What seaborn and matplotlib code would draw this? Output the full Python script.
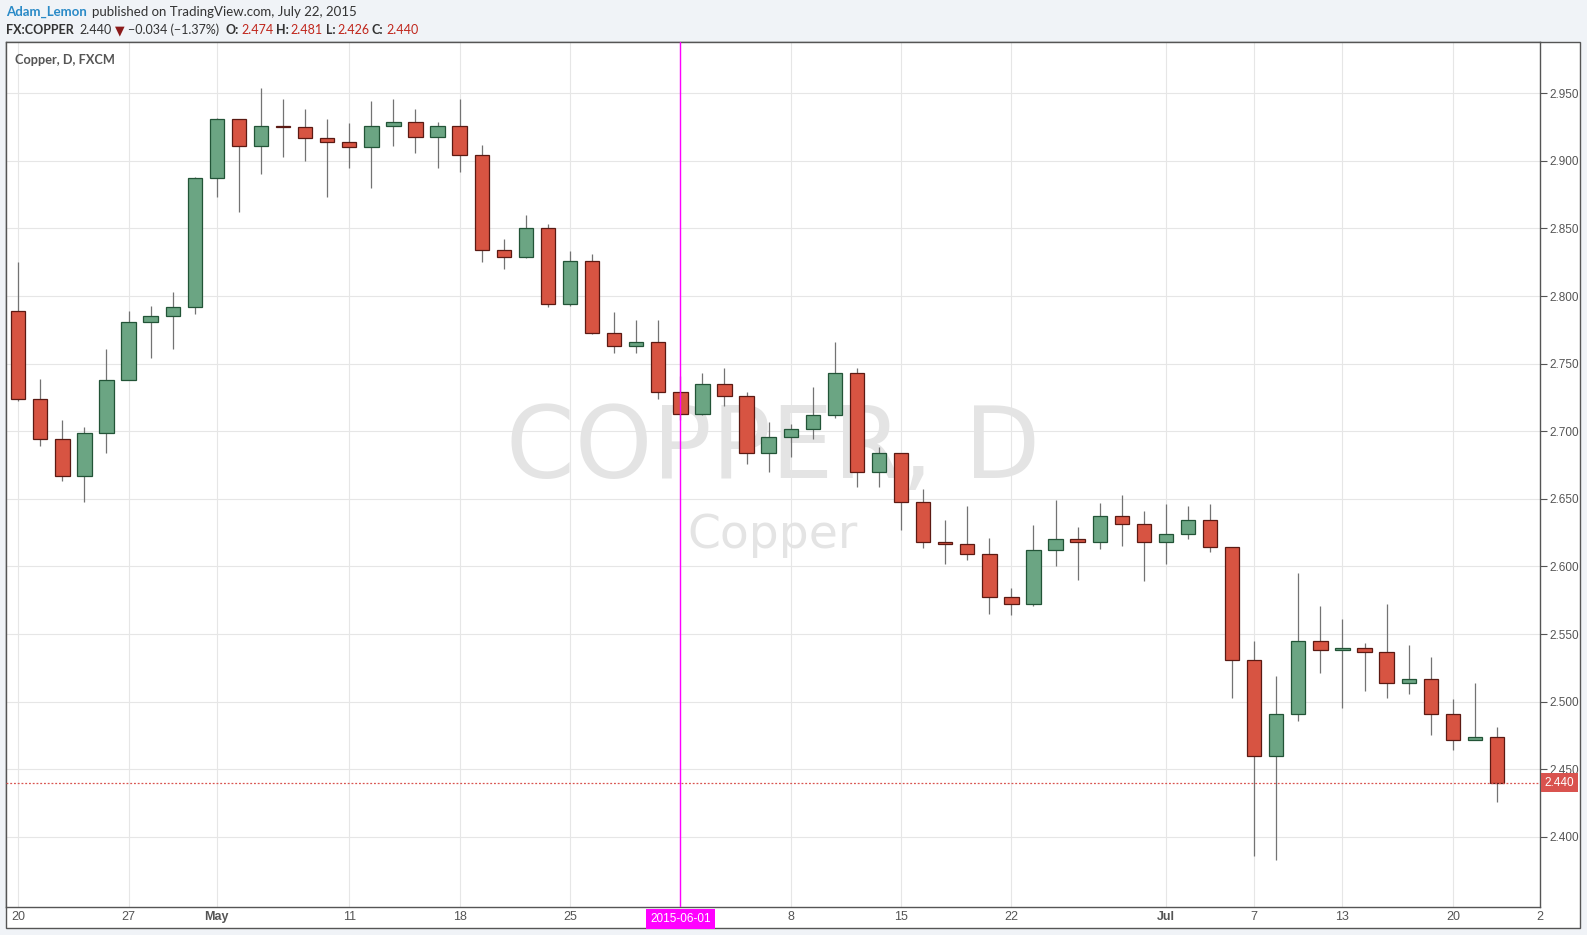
import pandas as pd
import matplotlib.pyplot as plt
import matplotlib.transforms as mtransforms
from matplotlib.patches import Rectangle
import seaborn as sns

# Daily OHLC for FX:COPPER (20 Apr - 22 Jul 2015)
dates = pd.bdate_range('2015-04-20', '2015-07-22')
opens = [2.789, 2.724, 2.694, 2.667, 2.699, 2.738, 2.781, 2.785, 2.792, 2.887,
         2.931, 2.911, 2.926, 2.925, 2.917, 2.914, 2.910, 2.926, 2.929, 2.918,
         2.926, 2.904, 2.834, 2.829, 2.850, 2.794, 2.826, 2.773, 2.763, 2.766,
         2.729, 2.7125, 2.735, 2.726, 2.684, 2.696, 2.702, 2.712, 2.743, 2.670,
         2.684, 2.6475, 2.618, 2.6165, 2.609, 2.5775, 2.5725, 2.612, 2.6205, 2.618,
         2.637, 2.6315, 2.618, 2.624, 2.6345, 2.6145, 2.531, 2.460, 2.491, 2.545,
         2.538, 2.5397, 2.5368, 2.514, 2.517, 2.491, 2.4713, 2.474]
highs = [2.825, 2.739, 2.708, 2.703, 2.761, 2.789, 2.793, 2.803, 2.888, 2.932,
         2.931, 2.954, 2.946, 2.938, 2.931, 2.928, 2.944, 2.946, 2.938, 2.929,
         2.946, 2.912, 2.842, 2.860, 2.853, 2.833, 2.831, 2.788, 2.782, 2.782,
         2.741, 2.743, 2.747, 2.729, 2.707, 2.705, 2.733, 2.766, 2.747, 2.688,
         2.684, 2.657, 2.634, 2.645, 2.621, 2.584, 2.631, 2.649, 2.629, 2.647,
         2.6525, 2.641, 2.646, 2.645, 2.646, 2.6145, 2.545, 2.519, 2.595, 2.571,
         2.561, 2.5436, 2.572, 2.542, 2.533, 2.502, 2.514, 2.481]
lows = [2.722, 2.689, 2.663, 2.648, 2.684, 2.738, 2.754, 2.761, 2.787, 2.873,
        2.862, 2.890, 2.903, 2.900, 2.873, 2.895, 2.880, 2.911, 2.906, 2.895,
        2.892, 2.825, 2.820, 2.828, 2.792, 2.793, 2.772, 2.758, 2.758, 2.724,
        2.708, 2.712, 2.719, 2.676, 2.670, 2.681, 2.694, 2.710, 2.659, 2.659,
        2.627, 2.614, 2.602, 2.6045, 2.565, 2.564, 2.571, 2.600, 2.590, 2.613,
        2.615, 2.589, 2.602, 2.620, 2.611, 2.503, 2.386, 2.383, 2.486, 2.521,
        2.495, 2.508, 2.503, 2.506, 2.475, 2.4645, 2.4713, 2.426]
closes = [2.724, 2.694, 2.667, 2.699, 2.738, 2.781, 2.785, 2.792, 2.887, 2.931,
          2.911, 2.926, 2.925, 2.917, 2.914, 2.910, 2.926, 2.929, 2.918, 2.926,
          2.904, 2.834, 2.829, 2.850, 2.794, 2.826, 2.773, 2.763, 2.766, 2.729,
          2.7125, 2.735, 2.726, 2.684, 2.696, 2.702, 2.712, 2.743, 2.670, 2.684,
          2.6475, 2.618, 2.6165, 2.609, 2.5775, 2.5725, 2.612, 2.620, 2.618, 2.637,
          2.6315, 2.618, 2.624, 2.6345, 2.6145, 2.531, 2.460, 2.491, 2.545, 2.5385,
          2.5397, 2.5368, 2.514, 2.517, 2.491, 2.4713, 2.4735, 2.440]

x_tick_pos = [0, 5, 9, 15, 20, 25, 30, 35, 40, 45, 52, 56, 60, 65, 68.95]
x_tick_labels = ['20', '27', 'May', '11', '18', '25', '', '8', '15', '22', 'Jul', '7', '13', '20', '2']
price_ticks = [2.40, 2.45, 2.50, 2.55, 2.60, 2.65, 2.70, 2.75, 2.80, 2.85, 2.90, 2.95]
last_price = 2.440
marker_idx = 30  # 2015-06-01 crosshair

df = pd.DataFrame({'date': dates, 'open': opens, 'high': highs, 'low': lows, 'close': closes})
df['idx'] = range(len(df))
df['up'] = df['close'] >= df['open']
df['body_lo'] = df[['open', 'close']].min(axis=1)
df['body_h'] = (df['close'] - df['open']).abs()

sns.set_theme(style='white')
plt.rcParams['font.family'] = ['DejaVu Sans']
narrow = ['Liberation Sans Narrow', 'DejaVu Sans Condensed', 'Liberation Sans']

W, H = 1587, 935
fig = plt.figure(figsize=(W / 100, H / 100), dpi=100)
fig.patch.set_facecolor('#f0f3f7')

def fx(x):
    return x / W

def fy(y):
    return 1 - y / H

# outer chart frame (behind the axes)
fig.patches.append(Rectangle((fx(6), fy(928)), fx(1580) - fx(6), fy(42) - fy(928),
                             transform=fig.transFigure, facecolor='white',
                             edgecolor='#555555', linewidth=1, zorder=-5))

ax = fig.add_axes([fx(6), fy(907), fx(1540) - fx(6), fy(42) - fy(907)])
ax.set_zorder(2)
ax.set_facecolor('white')

# gridlines
for p in price_ticks:
    ax.axhline(p, color='#e6e6e6', lw=0.8, zorder=0)
for p in x_tick_pos[:-1]:
    ax.axvline(p, color='#e6e6e6', lw=0.8, zorder=0)

# watermark
ax.text(0.5, 0.4955, 'COPPER, D', transform=ax.transAxes, ha='center', va='baseline',
        fontsize=71, color='#e4e4e4', zorder=0.5, family='DejaVu Sans')
ax.text(0.5, 0.4146, 'Copper', transform=ax.transAxes, ha='center', va='baseline',
        fontsize=34, color='#e4e4e4', zorder=0.5, family='DejaVu Sans')

# candles
ax.vlines(df['idx'], df['low'], df['high'], color='#737373', lw=0.9, zorder=2)
fills = df['up'].map({True: '#6ba583', False: '#d75442'})
edges = df['up'].map({True: '#225437', False: '#5b1a13'})
ax.bar(df['idx'], df['body_h'], bottom=df['body_lo'], width=0.65,
       color=fills, edgecolor=edges, linewidth=0.9, zorder=3)

# last price line and crosshair
ax.axhline(last_price, color='#d9534f', lw=0.9, ls=(0, (1.5, 1.5)), zorder=4)
ax.axvline(marker_idx, color='#ff00ff', lw=1.0, zorder=4)

ax.set_xlim(-0.553, 68.95)
ax.set_ylim(2.3481, 2.9879)

ax.yaxis.tick_right()
ax.set_yticks(price_ticks)
ax.set_yticklabels([f'{p:.3f}' for p in price_ticks])
ax.tick_params(axis='y', length=5, width=0.8, color='#555555', labelcolor='#555555',
               labelsize=8.5, pad=2, right=True, left=False)
ax.set_xticks(x_tick_pos)
ax.set_xticklabels(x_tick_labels)
ax.tick_params(axis='x', length=0, labelcolor='#555555', labelsize=9, pad=3)
for lab in ax.get_xticklabels():
    lab.set_family(narrow)
    if lab.get_text() in ('May', 'Jul'):
        lab.set_fontweight('bold')
for lab in ax.get_yticklabels():
    lab.set_family(['Liberation Sans', 'DejaVu Sans'])

for s in ax.spines.values():
    s.set_color('#555555')
    s.set_linewidth(1)

# axis badges
bx = mtransforms.blended_transform_factory(ax.transData, ax.transAxes)
ax.text(marker_idx, -0.0139, '2015-06-01', transform=bx, ha='center', va='center',
        color='white', fontsize=8.5, family=narrow,
        bbox=dict(boxstyle='square,pad=0.35', fc='#ff00ff', ec='none'), clip_on=False, zorder=6)
by = mtransforms.blended_transform_factory(ax.transAxes, ax.transData)
ax.text(1.003, last_price, '2.440', transform=by, ha='left', va='center',
        color='white', fontsize=8.5, family=['Liberation Sans', 'DejaVu Sans'],
        bbox=dict(boxstyle='square,pad=0.3', fc='#d9534f', ec='none'), clip_on=False, zorder=6)

fig.text(fx(15), fy(60), 'Copper, D, FXCM', ha='left', va='center', fontsize=9.2,
         color='#555555', fontweight='bold', family=['Lato', 'DejaVu Sans'], zorder=10)

# header
hf = ['Lato', 'DejaVu Sans']
fig.text(fx(6), fy(12), 'Adam_Lemon', ha='left', va='center', fontsize=9.5,
         color='#2a8ac7', fontweight='bold', family=hf)
fig.text(fx(92), fy(12), 'published on TradingView.com, July 22, 2015', ha='left',
         va='center', fontsize=9.5, color='#333333', family=hf)
row2 = [(6, 'FX:COPPER', '#333333', 'bold'), (79, '2.440', '#333333', 'normal'),
        (115, '\u25bc', '#8b1a1a', 'normal'), (128, '\u22120.034 (\u22121.37%)', '#333333', 'normal'),
        (226, 'O:', '#333333', 'bold'), (241, '2.474', '#c0261c', 'normal'),
        (276, 'H:', '#333333', 'bold'), (290, '2.481', '#c0261c', 'normal'),
        (326, 'L:', '#333333', 'bold'), (337, '2.426', '#c0261c', 'normal'),
        (372, 'C:', '#333333', 'bold'), (386, '2.440', '#c0261c', 'normal')]
for x, s, c, w in row2:
    fig.text(fx(x), fy(30), s, ha='left', va='center', fontsize=9, color=c,
             fontweight=w, family=hf)

fig.savefig('out.png', dpi=100, facecolor=fig.get_facecolor())
